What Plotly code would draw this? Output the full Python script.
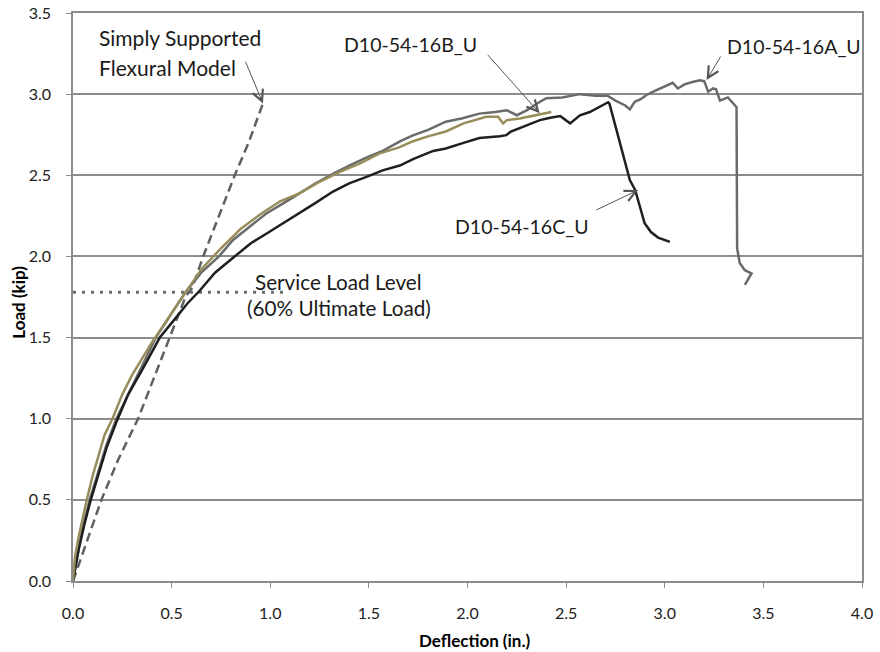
import plotly.graph_objects as go

# ---------------- data ----------------
model_x = [0, 0.07, 0.144, 0.23, 0.33, 0.41, 0.49, 0.57, 0.60, 0.62, 0.66, 0.74, 0.82, 0.89, 0.963]
model_y = [0, 0.25, 0.5, 0.75, 1.0, 1.25, 1.5, 1.75, 1.80, 1.86, 2.0, 2.25, 2.5, 2.7, 2.943]

a_x = [0, 0.02, 0.05, 0.085, 0.13, 0.17, 0.22, 0.3, 0.36, 0.42, 0.5, 0.57, 0.65, 0.74, 0.81,
       0.9, 0.98, 1.07, 1.15, 1.23, 1.32, 1.4, 1.49, 1.57, 1.66, 1.72, 1.8, 1.89, 1.97, 2.06,
       2.14, 2.2, 2.25, 2.3, 2.37, 2.4, 2.48, 2.57, 2.65, 2.71, 2.75, 2.8, 2.823, 2.848, 2.88,
       2.907, 2.95, 3.009, 3.04, 3.066, 3.1, 3.14, 3.178, 3.2, 3.22, 3.245, 3.26, 3.28, 3.32,
       3.364, 3.367, 3.38, 3.406, 3.44, 3.406]
a_y = [0, 0.15, 0.33, 0.5, 0.68, 0.84, 1.0, 1.2, 1.35, 1.5, 1.65, 1.78, 1.9, 2.0, 2.1,
       2.19, 2.265, 2.33, 2.39, 2.45, 2.51, 2.56, 2.61, 2.65, 2.71, 2.745, 2.78, 2.83, 2.85, 2.88,
       2.89, 2.9, 2.87, 2.9, 2.955, 2.975, 2.98, 3.0, 2.99, 2.99, 2.96, 2.93, 2.906, 2.953, 2.97,
       2.995, 3.02, 3.05, 3.07, 3.035, 3.06, 3.075, 3.085, 3.08, 3.015, 3.035, 3.03, 2.96, 2.98,
       2.92, 2.05, 1.96, 1.915, 1.895, 1.824]

b_x = [0, 0.01, 0.03, 0.05, 0.07, 0.1, 0.13, 0.16, 0.2, 0.25, 0.3, 0.35, 0.4, 0.45, 0.5,
       0.57, 0.65, 0.75, 0.85, 0.95, 1.05, 1.15, 1.25, 1.35, 1.45, 1.555, 1.65, 1.724, 1.8,
       1.89, 1.98, 2.096, 2.155, 2.18, 2.2, 2.265, 2.35, 2.425]
b_y = [0, 0.15, 0.28, 0.4, 0.5, 0.65, 0.78, 0.9, 1.0, 1.15, 1.27, 1.37, 1.47, 1.56, 1.65,
       1.78, 1.92, 2.05, 2.17, 2.26, 2.34, 2.39, 2.46, 2.52, 2.57, 2.635, 2.67, 2.71, 2.74,
       2.77, 2.82, 2.86, 2.86, 2.82, 2.84, 2.85, 2.87, 2.89]

c_x = [0, 0.03, 0.06, 0.09, 0.13, 0.17, 0.22, 0.28, 0.35, 0.44, 0.52, 0.58, 0.643, 0.72,
       0.81, 0.9, 0.98, 1.06, 1.15, 1.23, 1.318, 1.4, 1.488, 1.57, 1.657, 1.724, 1.826, 1.89,
       1.98, 2.06, 2.164, 2.197, 2.22, 2.3, 2.367, 2.42, 2.47, 2.52, 2.57, 2.62, 2.67, 2.713,
       2.72, 2.823, 2.85, 2.898, 2.93, 2.966, 3.026]
c_y = [0, 0.2, 0.36, 0.5, 0.66, 0.82, 0.98, 1.15, 1.3, 1.5, 1.62, 1.71, 1.79, 1.9,
       1.99, 2.08, 2.14, 2.2, 2.265, 2.33, 2.40, 2.45, 2.49, 2.53, 2.56, 2.60, 2.65, 2.665,
       2.7, 2.73, 2.74, 2.747, 2.77, 2.81, 2.84, 2.855, 2.865, 2.82, 2.87, 2.89, 2.92, 2.95,
       2.94, 2.47, 2.41, 2.204, 2.15, 2.116, 2.09]

service_x = [0, 1.09]
service_y = [1.78, 1.78]

x_ticks = [0, 0.5, 1.0, 1.5, 2.0, 2.5, 3.0, 3.5, 4.0]
y_ticks = [0, 0.5, 1.0, 1.5, 2.0, 2.5, 3.0, 3.5]

FONT = "Lato, 'Open Sans', sans-serif"
GRID = "#8c8c8c"

fig = go.Figure()
fig.add_trace(go.Scatter(x=service_x, y=service_y, mode="lines",
                         line=dict(color="#6e6e6e", width=3, dash="3px,6px"), name="Service"))
fig.add_trace(go.Scatter(x=model_x, y=model_y, mode="lines",
                         line=dict(color="#5f5f5f", width=2.5, dash="9px,5px"), name="Model"))
fig.add_trace(go.Scatter(x=a_x, y=a_y, mode="lines",
                         line=dict(color="#6a6a6a", width=2.5), name="D10-54-16A_U"))
fig.add_trace(go.Scatter(x=c_x, y=c_y, mode="lines",
                         line=dict(color="#1f1f1f", width=2.5), name="D10-54-16C_U"))
fig.add_trace(go.Scatter(x=b_x, y=b_y, mode="lines",
                         line=dict(color="#978c5a", width=2.5), name="D10-54-16B_U"))

annots = []
def label(text, x, y, xanchor="left", size=20):
    annots.append(dict(text=text, x=x, y=y, xref="x", yref="y", showarrow=False,
                       xanchor=xanchor, yanchor="middle",
                       font=dict(family=FONT, size=size, color="#1a1a1a")))

label("Simply Supported", 0.12, 3.346, size=21)
label("Flexural Model", 0.12, 3.167, size=21)
label("D10-54-16B_U", 1.363, 3.303, size=19.5)
label("D10-54-16A_U", 3.304, 3.296, size=19.5)
label("D10-54-16C_U", 1.925, 2.187, size=19.5)
label("Service Load Level", 1.347, 1.842, "center", size=20.7)
label("(60% Ultimate Load)", 1.347, 1.682, "center", size=20.7)

def arrow(hx, hy, tx, ty):
    annots.append(dict(text="", x=hx, y=hy, ax=tx, ay=ty, xref="x", yref="y",
                       axref="x", ayref="y", showarrow=True, arrowhead=5,
                       arrowsize=2.2, arrowwidth=1, arrowcolor="#555555"))

arrow(0.963, 2.943, 0.871, 3.21)
arrow(2.366, 2.882, 2.096, 3.251)
arrow(3.212, 3.087, 3.288, 3.241)
arrow(2.865, 2.409, 2.646, 2.282)

annots.append(dict(text="<b>Deflection (in.)</b>", x=0.509, y=-0.104, xref="paper", yref="paper",
                   showarrow=False, xanchor="center", yanchor="middle",
                   font=dict(family=FONT, size=17, color="#000000")))
annots.append(dict(text="<b>Load (kip)</b>", x=-0.069, y=0.491, xref="paper", yref="paper",
                   showarrow=False, xanchor="center", yanchor="middle", textangle=-90,
                   font=dict(family=FONT, size=17, color="#000000")))

fig.update_layout(
    width=880, height=652,
    margin=dict(l=73, r=18, t=13, b=71),
    paper_bgcolor="white", plot_bgcolor="white",
    showlegend=False,
    annotations=annots,
    font=dict(family=FONT, size=15, color="#222222"),
)
fig.update_xaxes(range=[0, 4], tickvals=x_ticks, tickformat=".1f", showgrid=False,
                 showline=True, linecolor=GRID, linewidth=1.5, mirror=True,
                 ticks="outside", ticklen=5, tickcolor=GRID, zeroline=False, automargin=False,
                 ticklabeloverflow="allow",
                 ticklabelstandoff=12, tickfont=dict(family=FONT, size=16, color="#222222"))
fig.update_yaxes(range=[0, 3.5], tickvals=y_ticks, tickformat=".1f", showgrid=True,
                 gridcolor=GRID, gridwidth=1.5, showline=True, linecolor=GRID, linewidth=1.5,
                 mirror=True, ticks="outside", ticklen=5, tickcolor=GRID, zeroline=False,
                 automargin=False, ticklabeloverflow="allow",
                 ticklabelstandoff=12, tickfont=dict(family=FONT, size=16, color="#222222"))

fig.write_html("out.html", config={"displayModeBar": False},
               post_script="document.body.style.margin='0';document.body.style.overflow='hidden';")
